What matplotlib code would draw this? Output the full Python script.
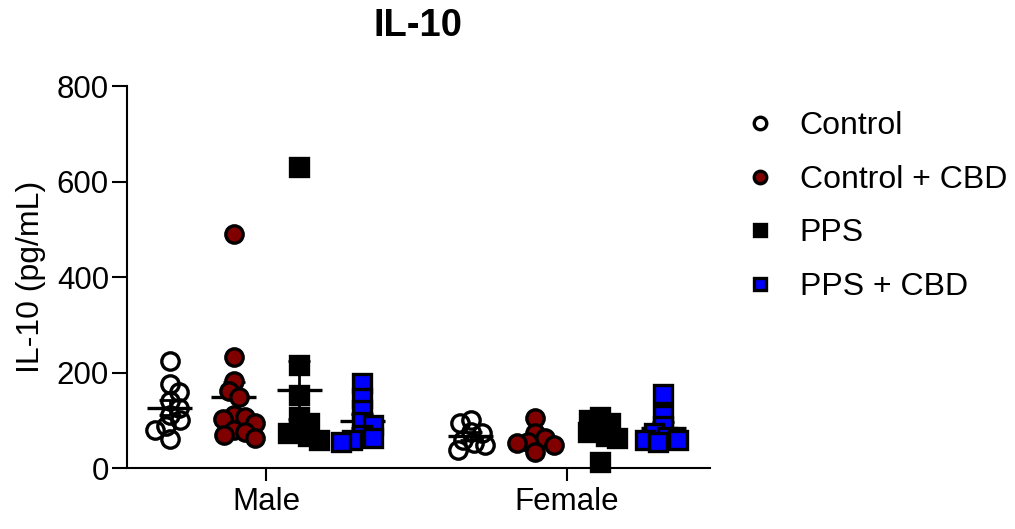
import numpy as np
import matplotlib.pyplot as plt

plt.rcParams['font.family'] = ['Liberation Sans', 'DejaVu Sans']

# IL-10 concentrations (pg/mL) per animal
sexes = ['Male', 'Female']
groups = ['Control', 'Control + CBD', 'PPS', 'PPS + CBD']

male_control = [225, 175, 160, 140, 125, 110, 100, 88, 80, 60]
male_control_cbd = [491, 233, 183, 162, 149, 111, 107, 102, 94, 80, 76, 69, 63]
male_pps = [631, 216, 153, 107, 94, 80, 73, 66, 59]
male_pps_cbd = [179, 147, 121, 97, 90, 69, 63, 59, 55]

female_control = [100, 94, 76, 73, 59, 52, 48, 38]
female_control_cbd = [104, 73, 63, 55, 52, 48, 34]
female_pps = [107, 100, 95, 84, 75, 66, 63, 13]
female_pps_cbd = [156, 111, 87, 73, 65, 59, 59, 55]

data = {
    'Male': [male_control, male_control_cbd, male_pps, male_pps_cbd],
    'Female': [female_control, female_control_cbd, female_pps, female_pps_cbd],
}

styles = [
    dict(marker='o', mfc='none', mec='black'),
    dict(marker='o', mfc='#800000', mec='black'),
    dict(marker='s', mfc='black', mec='black'),
    dict(marker='s', mfc='#0000ff', mec='black'),
]

fig = plt.figure(figsize=(10.15, 5.29), dpi=100)
ax = fig.add_axes([0.1251, 0.1153, 0.5744, 0.7221])

xmin, xmax = -0.462, 1.475
ymin, ymax = 0, 800
ax.set_xlim(xmin, xmax)
ax.set_ylim(ymin, ymax)

# pixel scale used for swarm placement
px_x = 0.5744 * 1015 / (xmax - xmin)
px_y = 0.7221 * 529 / (ymax - ymin)


def swarm(values, min_dist=11.0, step=1.0, max_off=22.0):
    """Return horizontal offsets (data units) so markers don't pile up."""
    order = np.argsort(values)[::-1]
    placed = []
    offsets = np.zeros(len(values))
    for n, i in enumerate(order):
        y = values[i] * px_y
        sign = 1 if n % 2 == 0 else -1
        best, best_d = 0.0, -1.0
        k = 0
        while k * step <= max_off:
            cands = [0.0] if k == 0 else [sign * k * step, -sign * k * step]
            found = False
            for c in cands:
                d = min([np.hypot(c - px, y - py) for px, py in placed] or [1e9])
                if d >= min_dist:
                    best, found = c, True
                    break
                if d > best_d:
                    best, best_d = c, d
            if found:
                break
            k += 1
        placed.append((best, y))
        offsets[i] = best / px_x
    return offsets


group_shift = [-0.32, -0.107, 0.11, 0.32]
for si, sex in enumerate(sexes):
    for gi, vals in enumerate(data[sex]):
        vals = np.array(vals, dtype=float)
        x0 = si + group_shift[gi]
        mean = vals.mean()
        sem = vals.std(ddof=1) / np.sqrt(len(vals))
        # mean and SEM bars
        ax.hlines(mean, x0 - 0.075, x0 + 0.075, color='black', lw=2.4, zorder=2)
        ax.vlines(x0, mean - sem, mean + sem, color='black', lw=2.0, zorder=2)
        for e in (mean - sem, mean + sem):
            ax.hlines(e, x0 - 0.037, x0 + 0.037, color='black', lw=2.0, zorder=2)
        xs = x0 + swarm(vals)
        ax.plot(xs, vals, ls='none', ms=12.5, mew=2.4, zorder=3,
                clip_on=False, **styles[gi])

ax.set_xticks(range(len(sexes)))
ax.set_xticklabels(sexes)
ax.set_yticks([0, 200, 400, 600, 800])
ax.tick_params(axis='both', labelsize=22.5, width=1.5, length=11, direction='out')
ax.tick_params(axis='y', pad=2)
ax.tick_params(axis='x', length=9, pad=5)
for side in ('top', 'right'):
    ax.spines[side].set_visible(False)
for side in ('left', 'bottom'):
    ax.spines[side].set_linewidth(1.5)

ax.set_ylabel('IL-10 (pg/mL)', fontsize=23, labelpad=8)
ax.set_title('IL-10', fontsize=27.5, fontweight='bold', pad=36)

handles = [plt.Line2D([], [], ls='none', ms=9, mew=2.4, **st) for st in styles]
fig.legend(handles, groups, loc='upper left', bbox_to_anchor=(0.717, 0.82),
           frameon=False, fontsize=23, labelspacing=0.74, handletextpad=0.75,
           handlelength=1.0, borderpad=0)

fig.savefig('out.png', dpi=100)
